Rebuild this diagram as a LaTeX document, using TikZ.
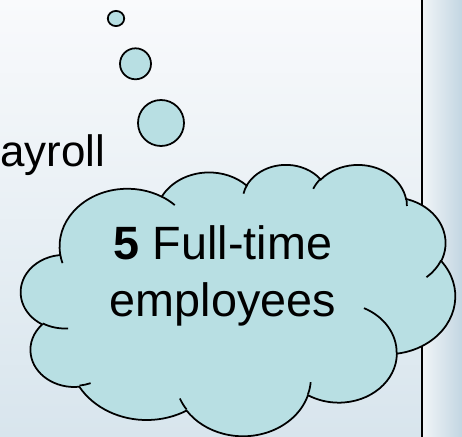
\documentclass[tikz,border=0pt]{standalone}
\usepackage{fontspec}
\setmainfont{Liberation Sans}

% colours
\definecolor{bgtop}{RGB}{249,250,252}
\definecolor{bgbot}{RGB}{216,229,237}
\definecolor{stripL}{RGB}{240,244,247}
\definecolor{stripR}{RGB}{195,214,226}
\definecolor{cloudfill}{RGB}{184,223,227}

% visual ellipse angle -> parametric angle (args: angle, x radius, y radius)
\pgfmathdeclarefunction{vpar}{3}{%
  \begingroup
    \pgfmathparse{#1+atan(((#2)-(#3))*sin(#1)*cos(#1)/((#3)*cos(#1)*cos(#1)+(#2)*sin(#1)*sin(#1)))}%
    \pgfmathsmuggle\pgfmathresult
  \endgroup}

\tikzset{
  outline/.style={draw=black, line width=1pt},
  bubble/.style={outline, fill=cloudfill},
  bigtext/.style={font=\fontsize{26.6}{32}\selectfont, inner sep=0pt, text=black},
  sidetext/.style={font=\fontsize{25}{30}\selectfont, inner sep=0pt, text=black},
  % elliptic arc given by radii, start angle and sweep (clockwise, y down)
  ooarc/.style n args={4}{insert path={
    arc[x radius=#1, y radius=#2,
        start angle={vpar(#3,#1,#2)}, end angle={vpar(#3+#4,#1,#2)}]}}
}

\begin{document}
\begin{tikzpicture}[scale=0.02]
  \useasboundingbox (0,0) rectangle (462,437);
  \clip (0,0) rectangle (462,437);

  % slide background and right margin band
  \shade[top color=bgtop, bottom color=bgbot] (0,0) rectangle (423,437);
  \shade[left color=stripL, right color=stripR] (423,0) rectangle (462,437);
  \draw[line width=1pt] (422.2,0) -- (422.2,437);

  % text at the left edge
  \node[sidetext, anchor=base west] (payrolltext) at (0,270) {ayroll};

  % thought bubbles
  \draw[bubble] (116,418.5) ellipse [x radius=8.2, y radius=7.6];
  \draw[bubble] (135.5,373.2) circle [radius=15.5];
  \draw[bubble] (161,314) circle [radius=23];

  % cloud, in a 43.2 x 43.2 frame with y pointing down
  \begin{scope}[shift={(21,273)}, xscale=10.05, yscale=-6.28]
    \draw[outline, fill=cloudfill] (3.9,14.37)
      [ooarc={6.753}{9.190}{-190.48748}{123.78053}]
      [ooarc={5.333}{7.267}{-144.10238}{89.94523}]
      [ooarc={4.365}{5.945}{-145.80792}{99.72302}]
      [ooarc={4.857}{6.595}{-130.98607}{117.24173}]
      [ooarc={5.333}{7.273}{-78.70888}{109.02692}]
      [ooarc={6.775}{9.220}{-46.26725}{130.26900}]
      [ooarc={5.785}{7.867}{0.62502}{114.03333}]
      [ooarc={6.752}{9.215}{22.45160}{115.17255}]
      [ooarc={7.720}{10.543}{66.24263}{75.71102}]
      [ooarc={4.360}{5.918}{-274.94208}{146.73557}]
      [ooarc={4.345}{5.945}{-246.82850}{152.51885}]
      -- cycle;
    % inner folds of the cloud
    \draw[outline]
      (4.693,26.177) [ooarc={4.345}{5.945}{86.74200}{26.42950}]
      (6.928,34.899) [ooarc={4.360}{5.918}{73.61047}{11.44747}]
      (16.478,39.090) [ooarc={6.752}{9.215}{137.62415}{14.08110}]
      (28.827,34.751) [ooarc={6.752}{9.215}{6.45327}{15.99835}]
      (34.129,22.954) [ooarc={5.785}{7.867}{-70.29235}{70.91737}]
      (41.798,15.354) [ooarc={5.333}{7.273}{30.31803}{27.75150}]
      (38.324,5.426) [ooarc={4.857}{6.595}{-13.74433}{14.85890}]
      (29.078,3.952) [ooarc={4.857}{6.595}{-149.18145}{18.19537}]
      (22.141,4.720) [ooarc={4.365}{5.945}{-163.49427}{17.68635}]
      (14.000,5.192) [ooarc={6.753}{9.190}{-66.70695}{12.31935}]
      (4.127,15.789) [ooarc={6.753}{9.190}{157.65435}{11.85817}];
  \end{scope}

  % cloud text
  \node[bigtext, anchor=base] (ftline) at (223,177) {\textbf{5} Full-time};
  \node[bigtext, anchor=base] (empline) at (223,120) {employees};
\end{tikzpicture}
\end{document}
